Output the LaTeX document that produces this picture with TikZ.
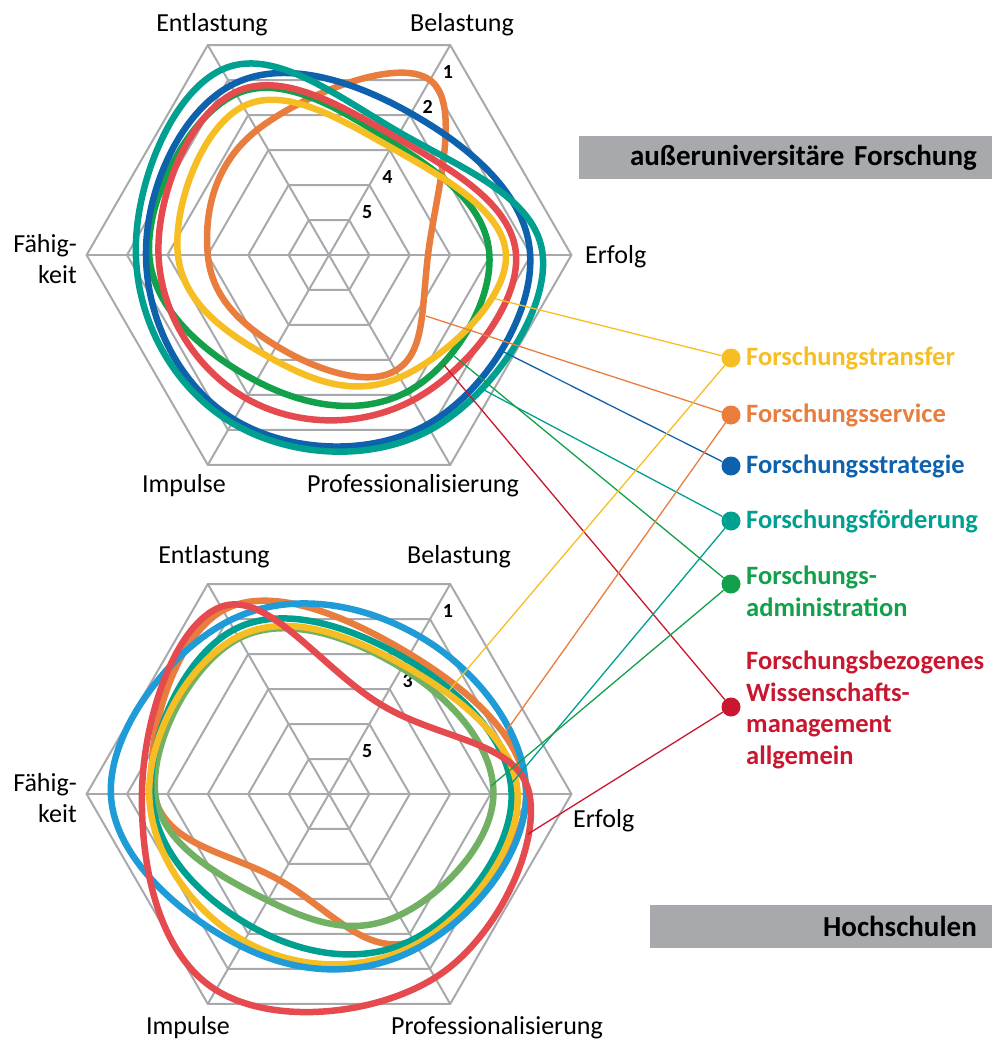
\documentclass[tikz,border=0pt]{standalone}
\usepackage{fontspec}
\setmainfont{Carlito}

\definecolor{gitter}{HTML}{A7A9AC}
\definecolor{ctransfer}{HTML}{F7BE24}
\definecolor{cservice}{HTML}{E87D3E}
\definecolor{cstrategie}{HTML}{0E62AD}
\definecolor{cfoerderung}{HTML}{00A090}
\definecolor{cadmin}{HTML}{13A04B}
\definecolor{callgemein}{HTML}{C8172F}
\definecolor{crot}{HTML}{E54B4E}
\definecolor{chellblau}{HTML}{1F9BD7}
\definecolor{chellgruen}{HTML}{72B163}

\begin{document}
\begin{tikzpicture}[x=1pt, y=1pt,
    netz/.style={draw=gitter, line width=2pt},
    kurve/.style={line width=6.5pt, line join=round},
    leiter/.style={line width=1.3pt},
    punkt/.style={circle, minimum size=19pt, inner sep=0pt},
    achse/.style={font=\fontsize{26}{31.7}\selectfont, inner sep=0pt},
    legende/.style={font=\bfseries\fontsize{26.5}{31.7}\selectfont, align=left, inner sep=0pt, anchor=west},
    stufe/.style={font=\bfseries\fontsize{20}{24}\selectfont, inner sep=0pt},
    titel/.style={fill=gitter, font=\bfseries\fontsize{29}{35}\selectfont, align=right, minimum height=43pt, inner xsep=15pt, anchor=north east}
]
\useasboundingbox (0,0) rectangle (992,-1041);

% Netz oben: außeruniversitäre Forschung
\begin{scope}[shift={(329pt,-255pt)}, x=40.4pt, y=40.4pt]
\foreach \r in {1,...,6}
  \draw[netz] (0:\r) -- (60:\r) -- (120:\r) -- (180:\r) -- (240:\r) -- (300:\r) -- cycle;
\foreach \w in {0,60,...,300}
  \draw[netz] (0,0) -- (\w:6);
\foreach \v/\r in {1/5,2/4,4/2,5/1}
  \node[stufe] (oStufe\v) at ([xshift=18pt,yshift=8pt]60:\r) {\v};
% Erfolg, Belastung, Entlastung, Fähigkeit, Impulse, Professionalisierung
\foreach \farbe/\a/\b/\c/\d/\e/\f in {
    cservice/2.45/5.0/3.57/3.0/2.6/3.3,
    cadmin/3.97/3.2/4.6/4.45/3.6/3.9,
    cstrategie/4.98/4.05/4.85/4.53/4.7/4.85,
    cfoerderung/5.29/3.5/5.3/4.78/4.8/5.0,
    crot/4.63/3.35/4.65/4.22/4.1/4.15,
    ctransfer/4.38/3.07/4.25/3.74/2.93/3.5}
  \draw[kurve, \farbe] plot[smooth cycle, tension=0.7] coordinates {(0:\a) (60:\b) (120:\c) (180:\d) (240:\e) (300:\f)};
\end{scope}

% Netz unten: Hochschulen
\begin{scope}[shift={(329pt,-794pt)}, x=40.4pt, y=40.4pt]
\foreach \r in {1,...,6}
  \draw[netz] (0:\r) -- (60:\r) -- (120:\r) -- (180:\r) -- (240:\r) -- (300:\r) -- cycle;
\foreach \w in {0,60,...,300}
  \draw[netz] (0,0) -- (\w:6);
\foreach \v/\r in {1/5,3/3,5/1}
  \node[stufe] (uStufe\v) at ([xshift=18pt,yshift=8pt]60:\r) {\v};
\foreach \farbe/\a/\b/\c/\d/\e/\f in {
    cservice/4.88/4.0/5.25/4.33/2.46/4.2,
    chellgruen/4.07/3.6/4.45/4.3/3.04/3.47,
    cfoerderung/4.52/3.85/4.7/4.4/3.8/4.16,
    ctransfer/4.67/3.68/4.5/4.45/4.2/4.3,
    chellblau/4.88/4.5/4.95/5.4/4.35/4.4,
    crot/4.96/2.56/5.35/4.63/5.6/5.25}
  \draw[kurve, \farbe] plot[smooth cycle, tension=0.7] coordinates {(0:\a) (60:\b) (120:\c) (180:\d) (240:\e) (300:\f)};
\end{scope}

% Achsen oben
\node[achse, anchor=base] (oEntl) at (212,-32) {Entlastung};
\node[achse, anchor=base] (oBel) at (462,-32) {Belastung};
\node[achse, anchor=base west] (oErf) at (585,-263) {Erfolg};
\node[achse, align=right, anchor=east] (oFaeh) at (77,-259) {Fähig-\\keit};
\node[achse, anchor=base] (oImp) at (184,-492) {Impulse};
\node[achse, anchor=base] (oProf) at (413,-492) {Professionalisierung};

% Achsen unten
\node[achse, anchor=base] (uEntl) at (214,-563) {Entlastung};
\node[achse, anchor=base] (uBel) at (459,-563) {Belastung};
\node[achse, anchor=base west] (uErf) at (573,-827) {Erfolg};
\node[achse, align=right, anchor=east] (uFaeh) at (77,-798) {Fähig-\\keit};
\node[achse, anchor=base] (uImp) at (188,-1034) {Impulse};
\node[achse, anchor=base] (uProf) at (497,-1034) {Professionalisierung};

% Titel
\node[titel, text width=383pt] (titelOben) at (992,-136) {außeruniversitäre Forschung};
\node[titel, text width=312pt] (titelUnten) at (992,-905) {Hochschulen};

% Legende
\node[punkt, fill=ctransfer] (transfer) at (731,-358) {};
\node[punkt, fill=cservice] (service) at (731,-415) {};
\node[punkt, fill=cstrategie] (strategie) at (731,-466) {};
\node[punkt, fill=cfoerderung] (foerderung) at (731,-521) {};
\node[punkt, fill=cadmin] (admin) at (731,-584) {};
\node[punkt, fill=callgemein] (allgemein) at (731,-707) {};
\node[legende, text=ctransfer] (tTransfer) at (746,-358) {Forschungstransfer};
\node[legende, text=cservice] (tService) at (746,-415) {Forschungsservice};
\node[legende, text=cstrategie] (tStrategie) at (746,-466) {Forschungsstrategie};
\node[legende, text=cfoerderung] (tFoerderung) at (746,-521) {Forschungsförderung};
\node[legende, text=cadmin] (tAdmin) at (746,-591) {Forschungs-\\administration};
\node[legende, text=callgemein] (tAllgemein) at (746,-710) {Forschungsbezogenes\\Wissenschafts-\\management\\allgemein};

% Zuordnungslinien
\coordinate (oTransfer) at (492,-298);
\coordinate (oService) at (426,-316);
\coordinate (oStrategie) at (504,-352);
\coordinate (oFoerderung) at (484,-390);
\coordinate (oAdmin) at (454,-356);
\coordinate (oAllgemein) at (444,-365);
\coordinate (uTransfer) at (447,-693);
\coordinate (uService) at (502,-737);
\coordinate (uFoerderung) at (512,-783);
\coordinate (uAdmin) at (491,-786);
\coordinate (uAllgemein) at (528,-834);
\draw[leiter, ctransfer] (oTransfer) -- (transfer);
\draw[leiter, cservice] (oService) -- (service);
\draw[leiter, cstrategie] (oStrategie) -- (strategie);
\draw[leiter, cfoerderung] (oFoerderung) -- (foerderung);
\draw[leiter, cadmin] (oAdmin) -- (admin);
\draw[leiter, callgemein] (oAllgemein) -- (allgemein);
\draw[leiter, ctransfer] (uTransfer) -- (transfer);
\draw[leiter, cservice] (uService) -- (service);
\draw[leiter, cfoerderung] (uFoerderung) -- (foerderung);
\draw[leiter, cadmin] (uAdmin) -- (admin);
\draw[leiter, callgemein] (uAllgemein) -- (allgemein);

\end{tikzpicture}
\end{document}
